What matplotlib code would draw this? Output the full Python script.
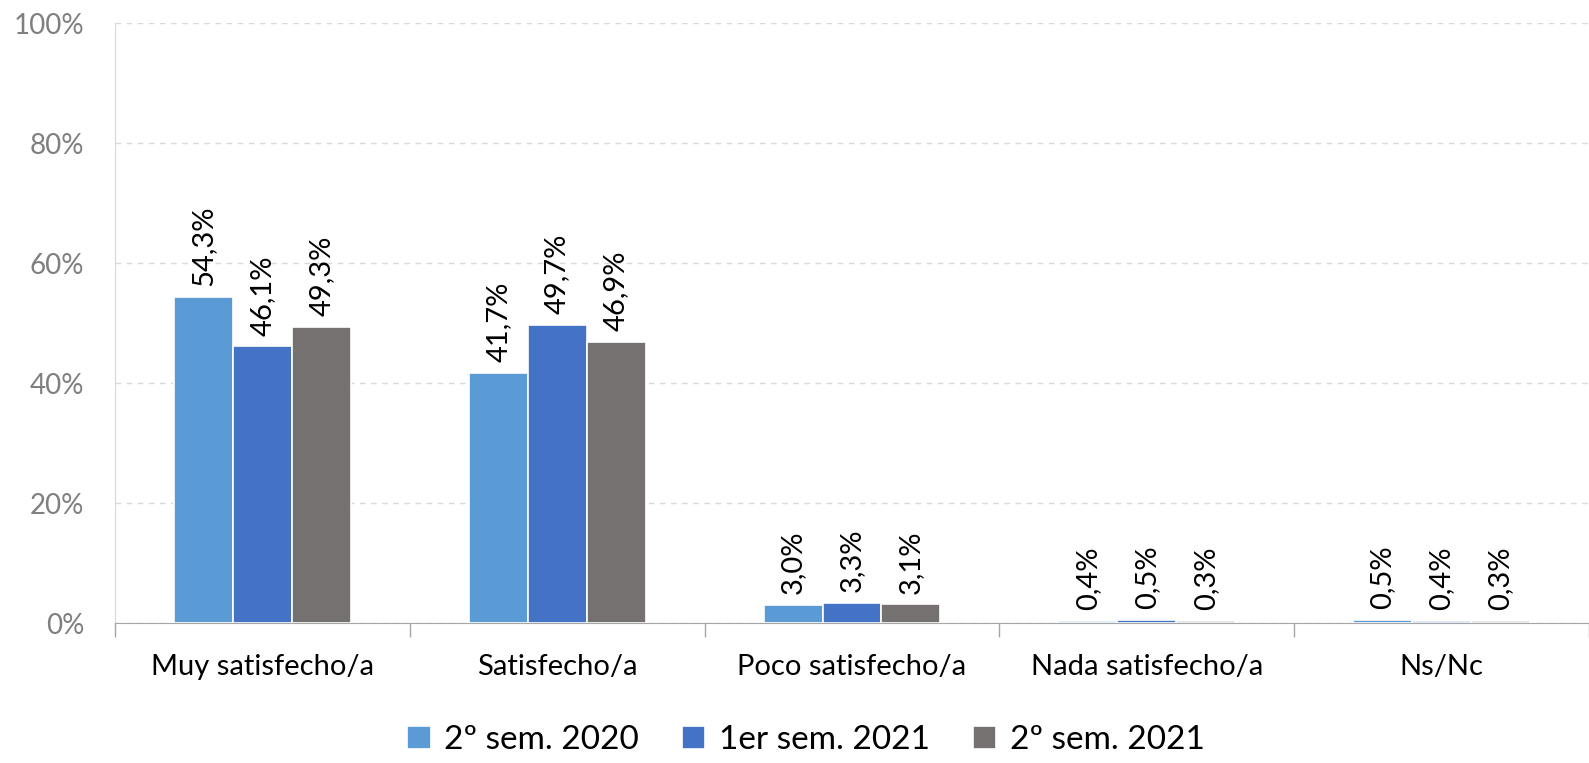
import matplotlib.pyplot as plt
import numpy as np

categories = ["Muy satisfecho/a", "Satisfecho/a", "Poco satisfecho/a",
              "Nada satisfecho/a", "Ns/Nc"]
series = ["2º sem. 2020", "1er sem. 2021", "2º sem. 2021"]
values = [
    [54.3, 41.7, 3.0, 0.4, 0.5],
    [46.1, 49.7, 3.3, 0.5, 0.4],
    [49.3, 46.9, 3.1, 0.3, 0.3],
]
colors = ["#5B9BD5", "#4472C4", "#767171"]

plt.rcParams['font.family'] = ['Lato', 'DejaVu Sans']

fig = plt.figure(figsize=(15.89, 7.63), dpi=100)
ax = fig.add_axes([115/1589, 1-623/763, 1474/1589, 600/763])

x = np.arange(len(categories))
w = 0.2
for i, (name, vals) in enumerate(zip(series, values)):
    pos = x + (i-1)*w
    ax.bar(pos, vals, width=w, color=colors[i], edgecolor="white",
           linewidth=1.2, label=name, zorder=3)
    for p, v in zip(pos, vals):
        ax.text(p, v + 1.8, ("%.1f%%" % v).replace(".", ","), rotation=90,
                ha="center", va="bottom", fontsize=21, color="black")

ax.set_xlim(-0.5, len(categories)-0.5)
ax.set_ylim(0, 100)
ax.set_yticks(range(0, 101, 20))
ax.set_yticklabels(["%d%%" % t for t in range(0, 101, 20)])
ax.tick_params(axis="y", length=0, labelsize=20, labelcolor="#7f7f7f", pad=22)
ax.yaxis.grid(True, linestyle=(0, (4, 4)), color="#d9d9d9", linewidth=1, zorder=0)

ax.set_xticks(x)
ax.set_xticklabels(categories, fontsize=21)
ax.tick_params(axis="x", length=0, pad=22)
ax.set_xticks(np.arange(-0.5, len(categories)), minor=True)
ax.tick_params(axis="x", which="minor", length=10, color="#a6a6a6", width=1)

for s in ["top", "right"]:
    ax.spines[s].set_visible(False)
ax.spines["left"].set_color("#d9d9d9")
ax.spines["bottom"].set_color("#a6a6a6")

fig.legend(*ax.get_legend_handles_labels(), loc="center",
           bbox_to_anchor=(806/1589, 1-740/763), ncol=3,
           frameon=False, fontsize=24, handlelength=0.7, handleheight=0.7,
           handletextpad=0.4, columnspacing=1.3)

plt.savefig("out.png", dpi=100)
